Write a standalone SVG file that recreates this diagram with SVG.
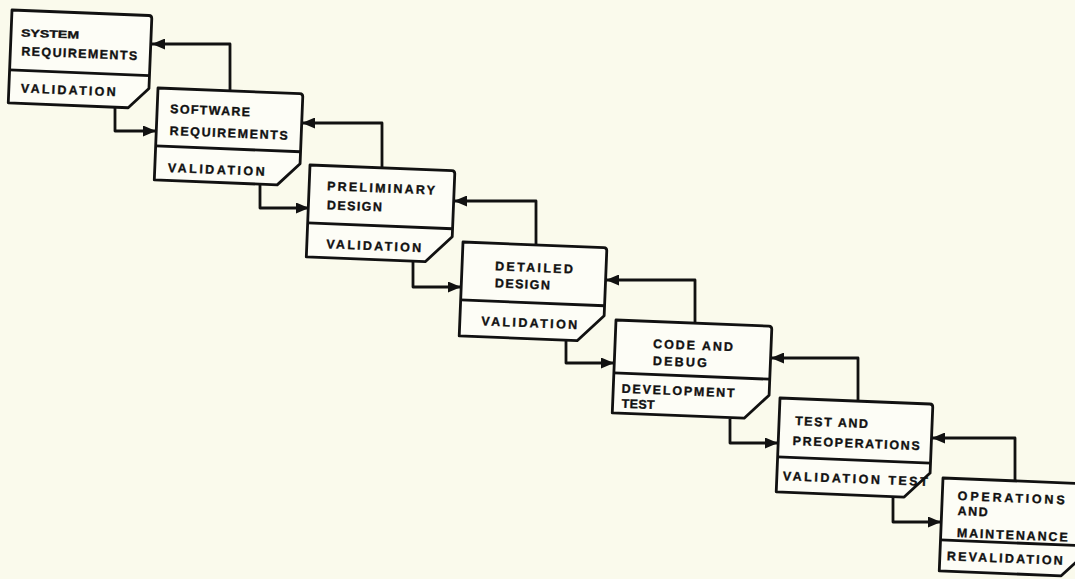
<svg xmlns="http://www.w3.org/2000/svg" width="1075" height="579" viewBox="0 0 1075 579">
<style>
.bg{fill:#fafaec}
.box{fill:#fdfdf6;stroke:#111;stroke-width:2.8;stroke-linejoin:round}
.div{stroke:#111;stroke-width:2.8}
.t{font-family:"Liberation Sans",Arial,sans-serif;font-weight:bold;font-size:12.5px;fill:#111;stroke:#111;stroke-width:0.35}
.c{fill:none;stroke:#111;stroke-width:2.8;stroke-linejoin:round}
</style>
<defs>
<marker id="ah" markerUnits="userSpaceOnUse" markerWidth="14" markerHeight="11" refX="13" refY="5.5" orient="auto">
<path d="M0,0 L13,5.5 L0,11 Z" fill="#111"/>
</marker>
</defs>
<rect class="bg" x="0" y="0" width="1075" height="579"/>

<g id="connectors">
<path class="c" d="M115,106 V131 H156" marker-end="url(#ah)"/>
<path class="c" d="M230,90 V44 H152" marker-end="url(#ah)"/>
<path class="c" d="M260,184 V208 H309" marker-end="url(#ah)"/>
<path class="c" d="M382,167 V123 H302" marker-end="url(#ah)"/>
<path class="c" d="M413,262 V287 H461" marker-end="url(#ah)"/>
<path class="c" d="M536,245 V201 H454" marker-end="url(#ah)"/>
<path class="c" d="M566,340 V363 H614" marker-end="url(#ah)"/>
<path class="c" d="M695,324 V280 H606" marker-end="url(#ah)"/>
<path class="c" d="M730,419 V443 H778" marker-end="url(#ah)"/>
<path class="c" d="M858,401 V358 H771" marker-end="url(#ah)"/>
<path class="c" d="M893,497 V522 H941" marker-end="url(#ah)"/>
<path class="c" d="M1015,481 V438 H932" marker-end="url(#ah)"/>
</g>

<g id="n1" transform="translate(12,10) rotate(2.3)">
<path class="box" d="M0,0 H137 Q140,0 140,3 V73 L120,93 H0 Z"/>
<line class="div" x1="0" y1="60" x2="140" y2="60"/>
<text class="t" x="10" y="26" textLength="58" lengthAdjust="spacingAndGlyphs" style="font-size:10.5px">SYSTEM</text>
<text class="t" x="11" y="45" textLength="116" lengthAdjust="spacing">REQUIREMENTS</text>
<text class="t" x="12" y="82" textLength="95" lengthAdjust="spacing">VALIDATION</text>
</g>

<g id="n2" transform="translate(158,88) rotate(2.3)">
<path class="box" d="M0,0 H142 Q145,0 145,3 V70 L123,92 H0 Z"/>
<line class="div" x1="0" y1="58" x2="145" y2="58"/>
<text class="t" x="13" y="24.5" textLength="80" lengthAdjust="spacing">SOFTWARE</text>
<text class="t" x="13.5" y="46.5" textLength="118" lengthAdjust="spacing">REQUIREMENTS</text>
<text class="t" x="13" y="83.5" textLength="97" lengthAdjust="spacing">VALIDATION</text>
</g>

<g id="n3" transform="translate(310,165) rotate(2.3)">
<path class="box" d="M0,0 H142 Q145,0 145,3 V66 L119,92 H0 Z"/>
<line class="div" x1="0" y1="58" x2="145" y2="58"/>
<text class="t" x="18" y="24.5" textLength="108" lengthAdjust="spacing">PRELIMINARY</text>
<text class="t" x="18.5" y="43.5" textLength="55" lengthAdjust="spacing">DESIGN</text>
<text class="t" x="19.5" y="82.5" textLength="95" lengthAdjust="spacing">VALIDATION</text>
</g>

<g id="n4" transform="translate(463,242) rotate(2.3)">
<path class="box" d="M0,0 H141 Q144,0 144,3 V68 L118,94 H0 Z"/>
<line class="div" x1="0" y1="58" x2="144" y2="58"/>
<text class="t" x="33" y="27" textLength="78" lengthAdjust="spacing">DETAILED</text>
<text class="t" x="33.5" y="44" textLength="55" lengthAdjust="spacing">DESIGN</text>
<text class="t" x="21.5" y="82.5" textLength="96" lengthAdjust="spacing">VALIDATION</text>
</g>

<g id="n5" transform="translate(616,320) rotate(2.3)">
<path class="box" d="M0,0 H153 Q156,0 156,3 V69 L132,93 H0 Z"/>
<line class="div" x1="0" y1="53" x2="156" y2="53"/>
<text class="t" x="38" y="26.5" textLength="80" lengthAdjust="spacing">CODE AND</text>
<text class="t" x="38.5" y="43.5" textLength="54" lengthAdjust="spacing">DEBUG</text>
<text class="t" x="8.5" y="72.5" textLength="113" lengthAdjust="spacing">DEVELOPMENT</text>
<text class="t" x="9" y="87.5" textLength="33" lengthAdjust="spacing">TEST</text>
</g>

<g id="n6" transform="translate(780,398) rotate(2.3)">
<path class="box" d="M0,0 H150 Q153,0 153,3 V69 L128,94 H0 Z"/>
<line class="div" x1="0" y1="59" x2="153" y2="59"/>
<text class="t" x="16" y="26.5" textLength="73" lengthAdjust="spacing">TEST AND</text>
<text class="t" x="14.5" y="46.5" textLength="127" lengthAdjust="spacing">PREOPERATIONS</text>
<text class="t" x="6" y="82" textLength="145" lengthAdjust="spacing">VALIDATION TEST</text>
</g>

<g id="n7" transform="translate(943,478) rotate(2.3)">
<path class="box" d="M0,0 H144 Q147,0 147,3 V68 L122,93 H0 Z"/>
<line class="div" x1="0" y1="62" x2="147" y2="62"/>
<text class="t" x="15.5" y="21.5" textLength="107" lengthAdjust="spacing">OPERATIONS</text>
<text class="t" x="16" y="36.5" textLength="30" lengthAdjust="spacing">AND</text>
<text class="t" x="16" y="58.5" textLength="111" lengthAdjust="spacing">MAINTENANCE</text>
<text class="t" x="7" y="82" textLength="116" lengthAdjust="spacing">REVALIDATION</text>
</g>
</svg>
